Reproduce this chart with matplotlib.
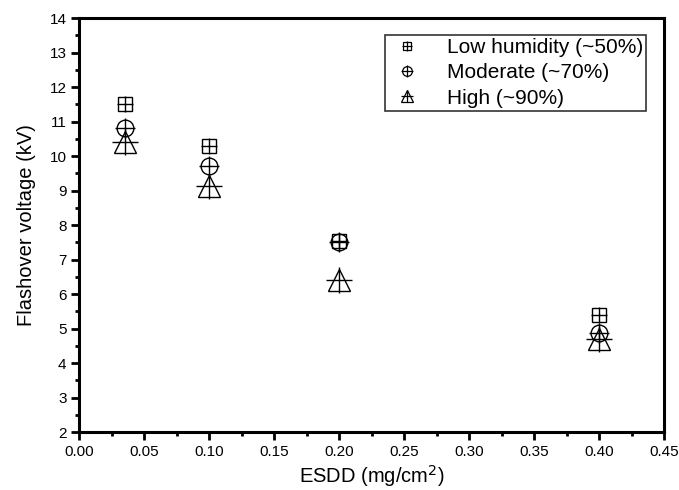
import matplotlib
matplotlib.use("Agg")
import matplotlib.pyplot as plt
from matplotlib.lines import Line2D
from matplotlib.legend_handler import HandlerTuple
from matplotlib.ticker import MultipleLocator

plt.rcParams['font.family'] = ['Liberation Sans', 'DejaVu Sans']

esdd = [0.035, 0.1, 0.2, 0.4]
low = [11.5, 10.3, 7.55, 5.4]
moderate = [10.8, 9.7, 7.5, 4.88]
high = [10.4, 9.13, 6.4, 4.7]
labels = ['Low humidity (~50%)', 'Moderate (~70%)', 'High (~90%)']

fig = plt.figure(figsize=(6.79, 4.90), dpi=100)
ax = fig.add_axes([79/679, 1-432/490, (664-79)/679, (432-18)/490])

def draw(y, mk, ms, lw=1.0):
    ax.plot(esdd, y, linestyle='none', marker=mk, ms=ms, mfc='none', mec='black', mew=lw)
    ax.plot(esdd, y, linestyle='none', marker='+', ms=ms*1.15, mec='black', mew=lw)

draw(low, 's', 10)
draw(moderate, 'o', 12)
draw(high, '^', 16)

ax.set_xlim(0, 0.45)
ax.set_ylim(2, 14)
ax.xaxis.set_major_locator(MultipleLocator(0.05))
ax.xaxis.set_minor_locator(MultipleLocator(0.025))
ax.yaxis.set_major_locator(MultipleLocator(1))
ax.yaxis.set_minor_locator(MultipleLocator(0.5))
ax.xaxis.set_major_formatter(matplotlib.ticker.FormatStrFormatter('%.2f'))
for s in ax.spines.values():
    s.set_linewidth(2.2)
ax.tick_params(which='major', direction='out', length=6, width=2, labelsize=11, pad=3)
ax.tick_params(which='minor', direction='out', length=3, width=2)
ax.tick_params(top=False, right=False, which='both')

ax.set_xlabel('ESDD (mg/cm$^2$)', fontsize=14.5, labelpad=3)
ax.set_ylabel('Flashover voltage (kV)', fontsize=14.5, labelpad=10)

def h(mk, ms):
    return (Line2D([], [], ls='none', marker=mk, ms=ms, mfc='none', mec='black', mew=0.9),
            Line2D([], [], ls='none', marker='+', ms=ms*1.15, mec='black', mew=0.9))

handles = [h('s', 6), h('o', 7), h('^', 8)]
leg = ax.legend(handles, labels, handler_map={tuple: HandlerTuple(ndivide=1)},
                loc='upper right', bbox_to_anchor=(646/679, 1-35/490),
                bbox_transform=fig.transFigure, fontsize=15, frameon=True,
                fancybox=False, edgecolor='black', borderpad=0.15, handlelength=1.8,
                labelspacing=0.3, handletextpad=1.0, borderaxespad=0)
leg.get_frame().set_linewidth(1.2)

fig.savefig('out.png', dpi=100)
